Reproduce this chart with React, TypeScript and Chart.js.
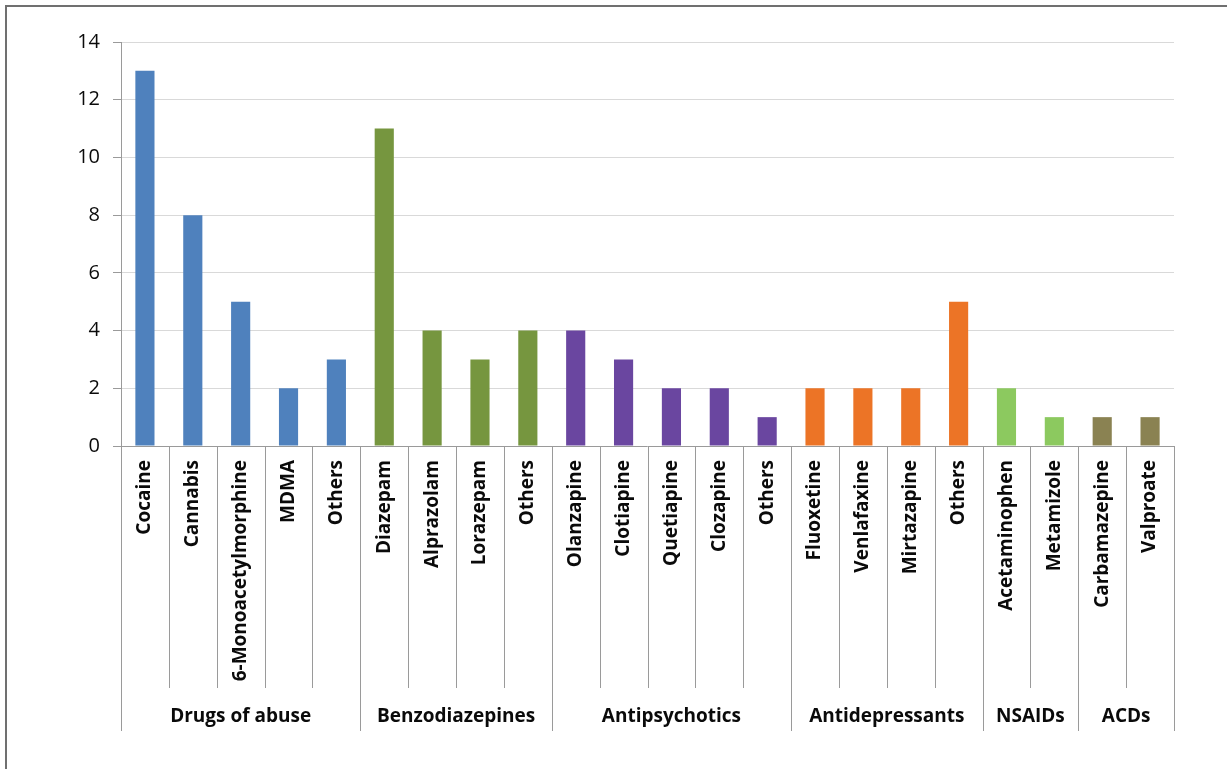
import React, { useEffect, useRef } from "react";
import { Chart, registerables } from "chart.js";

Chart.register(...registerables);

// Substances and their counts, in display order
const drugs = [
  "Cocaine", "Cannabis", "6-Monoacetylmorphine", "MDMA", "Others",
  "Diazepam", "Alprazolam", "Lorazepam", "Others",
  "Olanzapine", "Clotiapine", "Quetiapine", "Clozapine", "Others",
  "Fluoxetine", "Venlafaxine", "Mirtazapine", "Others",
  "Acetaminophen", "Metamizole",
  "Carbamazepine", "Valproate",
];
const counts = [13, 8, 5, 2, 3, 11, 4, 3, 4, 4, 3, 2, 2, 1, 2, 2, 2, 5, 2, 1, 1, 1];

// Drug classes and how many substances each spans
const groupNames = ["Drugs of abuse", "Benzodiazepines", "Antipsychotics", "Antidepressants", "NSAIDs", "ACDs"];
const groupSizes = [5, 4, 5, 4, 2, 2];
const groupColors = ["#4f81bd", "#76963f", "#6a46a0", "#ec7426", "#8cc95f", "#8a8252"];

const yTicks = [0, 2, 4, 6, 8, 10, 12, 14];

const FONT = "'Open Sans', 'Liberation Sans', sans-serif";

const barColors: string[] = [];
groupSizes.forEach((n, g) => {
  for (let i = 0; i < n; i++) barColors.push(groupColors[g]);
});

// Draws the two-level category axis below the plot
const groupedAxis = {
  id: "groupedAxis",
  afterDraw(chart: any) {
    const { ctx, chartArea, scales } = chart;
    const x = scales.x;
    const bottom = chartArea.bottom;
    const step = (chartArea.right - chartArea.left) / drugs.length;
    const catEnd = 688;
    const groupEnd = 731;

    ctx.save();
    ctx.strokeStyle = "#9a9a9a";
    ctx.lineWidth = 1;

    ctx.beginPath();
    ctx.moveTo(chartArea.left, bottom + 0.5);
    ctx.lineTo(chartArea.right, bottom + 0.5);
    ctx.stroke();

    const groupEdges = new Set<number>();
    let acc = 0;
    groupEdges.add(0);
    groupSizes.forEach((n) => {
      acc += n;
      groupEdges.add(acc);
    });

    for (let i = 0; i <= drugs.length; i++) {
      const px = Math.round(chartArea.left + i * step) + 0.5;
      ctx.beginPath();
      ctx.moveTo(px, bottom);
      ctx.lineTo(px, groupEdges.has(i) ? groupEnd : catEnd);
      ctx.stroke();
    }

    ctx.fillStyle = "#0a0a0a";
    ctx.font = `bold 19px ${FONT}`;
    drugs.forEach((name, i) => {
      const cx = x.getPixelForValue(i);
      ctx.save();
      ctx.translate(cx, bottom + 14);
      ctx.rotate(-Math.PI / 2);
      ctx.textAlign = "right";
      ctx.textBaseline = "middle";
      ctx.fillText(name, 0, 0);
      ctx.restore();
    });

    ctx.textAlign = "center";
    ctx.textBaseline = "middle";
    let start = 0;
    groupNames.forEach((name, g) => {
      const end = start + groupSizes[g];
      const cx = chartArea.left + ((start + end) / 2) * step;
      ctx.fillText(name, cx, 717);
      start = end;
    });
    ctx.restore();
  },
};

export default function App() {
  const canvasRef = useRef<HTMLCanvasElement | null>(null);

  useEffect(() => {
    if (!canvasRef.current) return;
    const chart = new Chart(canvasRef.current, {
      type: "bar",
      data: {
        labels: drugs,
        datasets: [
          {
            data: counts,
            backgroundColor: barColors,
            borderWidth: 0,
            barPercentage: 0.4,
            categoryPercentage: 1,
          },
        ],
      },
      options: {
        animation: false,
        responsive: false,
        maintainAspectRatio: false,
        layout: { padding: { left: 0, top: 42, right: 53, bottom: 323 } },
        plugins: {
          legend: { display: false },
          tooltip: { enabled: false },
        },
        scales: {
          x: {
            type: "category",
            display: false,
            offset: true,
          },
          y: {
            min: 0,
            max: 14,
            afterFit(scale: any) {
              scale.width = 121;
            },
            afterBuildTicks(scale: any) {
              scale.ticks = yTicks.map((v) => ({ value: v }));
            },
            border: { color: "#9a9a9a", width: 1 },
            grid: {
              color: (c: any) => (c.tick && c.tick.value === 0 ? "rgba(0,0,0,0)" : "#d9d9d9"),
              tickColor: "#9a9a9a",
              tickLength: 8,
              lineWidth: 1,
            },
            ticks: {
              padding: 13,
              color: "#0a0a0a",
              font: { family: FONT, size: 20 },
            },
          },
        },
      },
      plugins: [groupedAxis],
    });
    return () => chart.destroy();
  }, []);

  return (
    <div style={{ position: "fixed", left: 0, top: 0, width: 1227, height: 769, background: "#fff", overflow: "hidden" }}>
      <div
        style={{
          position: "absolute",
          left: 5,
          top: 5,
          width: 1300,
          height: 900,
          borderLeft: "2px solid #707070",
          borderTop: "2px solid #707070",
        }}
      />
      <canvas ref={canvasRef} width={1227} height={769} style={{ position: "absolute", left: 0, top: 0 }} />
    </div>
  );
}
